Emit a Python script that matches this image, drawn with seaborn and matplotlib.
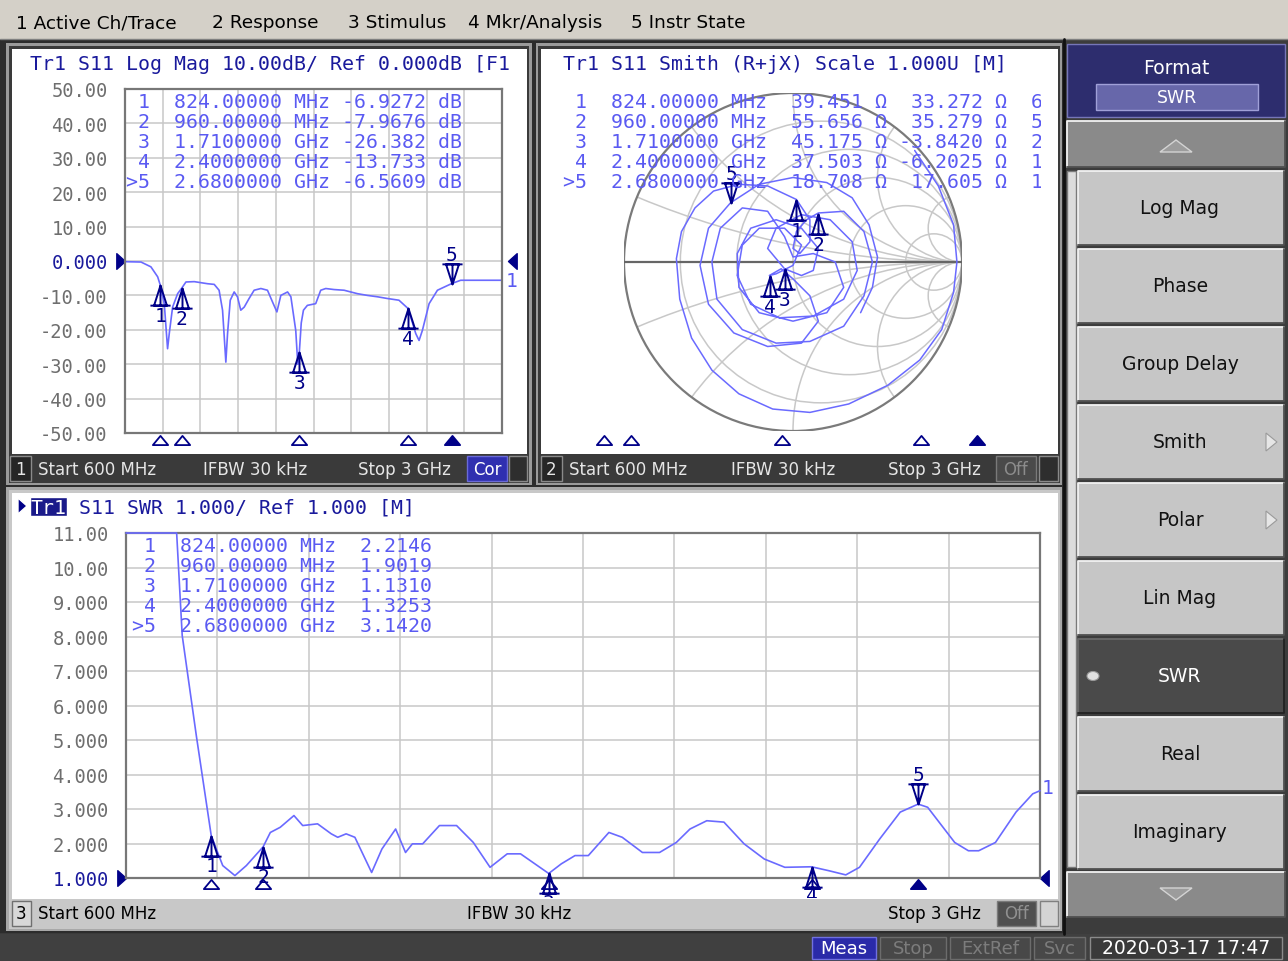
import numpy as np
import pandas as pd
import matplotlib
matplotlib.use("Agg")
import matplotlib.pyplot as plt
import seaborn as sns
from matplotlib.patches import Rectangle, Circle, Polygon, Ellipse
from matplotlib.path import Path
import matplotlib.transforms as mtransforms

# ---------------- data ----------------
marker_labels = [" 1", " 2", " 3", " 4", ">5"]
marker_numbers = ["1", "2", "3", "4", "5"]
marker_freq_ghz = [0.824, 0.960, 1.710, 2.400, 2.680]
marker_freq_text = ["824.00000 MHz", "960.00000 MHz", "1.7100000 GHz",
                    "2.4000000 GHz", "2.6800000 GHz"]
marker_logmag_db = [-6.9272, -7.9676, -26.382, -13.733, -6.5609]
marker_r_ohm = [39.451, 55.656, 45.175, 37.503, 18.708]
marker_x_ohm = [33.272, 35.279, -3.8420, -6.2025, 17.605]
marker_lc_text = ["6.4258 nH", "5.8488 nH", "24.226 pF", "10.692 pF", "1.0455 nH"]
marker_swr = [2.2146, 1.9019, 1.1310, 1.3253, 3.1420]

logmag_freq = [0.600, 0.702, 0.765, 0.808, 0.824, 0.850, 0.871, 0.882, 0.903, 0.935,
               0.960, 0.988, 1.041, 1.083, 1.125, 1.168, 1.199, 1.221, 1.242, 1.253,
               1.270, 1.295, 1.316, 1.337, 1.359, 1.390, 1.422, 1.465, 1.507, 1.539,
               1.567, 1.592, 1.635, 1.656, 1.687, 1.700, 1.710, 1.722, 1.736, 1.761,
               1.814, 1.846, 1.878, 1.931, 1.995, 2.037, 2.080, 2.143, 2.207, 2.270,
               2.344, 2.400, 2.419, 2.451, 2.472, 2.493, 2.536, 2.589, 2.631, 2.680,
               2.737, 3.000]
logmag_db = [-0.2, -0.3, -1.7, -4.6, -6.93, -12.4, -25.5, -21.0, -13.4, -9.5,
             -7.97, -6.1, -6.0, -6.3, -6.6, -6.8, -8.5, -14.3, -29.4, -21.0,
             -11.4, -9.0, -10.4, -14.3, -13.4, -10.9, -8.5, -8.0, -8.5, -11.9,
             -14.8, -10.0, -9.0, -10.4, -20.2, -30.0, -26.38, -18.0, -14.3, -12.9,
             -12.4, -8.5, -8.0, -8.3, -8.5, -9.0, -9.5, -10.0, -10.4, -10.9,
             -11.4, -13.73, -16.3, -21.1, -23.1, -20.2, -12.4, -8.5, -7.6, -6.56,
             -5.6, -5.6]

swr_freq = [0.600, 0.733, 0.7476, 0.785, 0.824, 0.854, 0.886, 0.916, 0.960, 0.979,
            1.005, 1.041, 1.064, 1.103, 1.139, 1.156, 1.178, 1.201, 1.245, 1.272,
            1.308, 1.334, 1.352, 1.379, 1.423, 1.468, 1.512, 1.556, 1.601, 1.636,
            1.710, 1.743, 1.779, 1.814, 1.868, 1.903, 1.956, 2.001, 2.045, 2.081,
            2.125, 2.170, 2.223, 2.276, 2.330, 2.400, 2.446, 2.490, 2.526, 2.579,
            2.633, 2.680, 2.705, 2.776, 2.812, 2.839, 2.883, 2.937, 2.981, 3.000]
swr_value = [11.0, 11.0, 8.03, 5.1, 2.2146, 1.36, 1.07, 1.36, 1.9019, 2.32,
             2.47, 2.81, 2.52, 2.57, 2.28, 2.18, 2.28, 2.18, 1.16, 1.84,
             2.42, 1.74, 1.99, 1.99, 2.52, 2.52, 2.03, 1.31, 1.70, 1.70,
             1.131, 1.41, 1.65, 1.65, 2.32, 2.18, 1.74, 1.74, 2.03, 2.42,
             2.66, 2.62, 1.99, 1.55, 1.31, 1.3253, 1.21, 1.09, 1.31, 2.13,
             2.91, 3.142, 3.05, 2.03, 1.79, 1.79, 2.03, 2.91, 3.44, 3.53]

smith_re = [0.72, 0.86, 0.95, 0.97, 0.95, 0.88, 0.75, 0.56, 0.33, 0.10, -0.12, -0.32,
            -0.48, -0.60, -0.67, -0.69, -0.66, -0.58, -0.47, -0.32, -0.15, 0.02,
            0.10, 0.10, 0.04, 0.00, 0.02, 0.08, 0.15,
            0.30, 0.42, 0.47, 0.42, 0.30, 0.10, -0.10, -0.30, -0.45, -0.48, -0.43,
            -0.30, -0.15, -0.05, 0.00,
            0.12, 0.25, 0.30, 0.20, 0.00, -0.20, -0.32, -0.33, -0.25, -0.10, 0.05,
            0.15, 0.12,
            0.05, -0.05,
            -0.15, -0.10, 0.05, 0.22, 0.35, 0.38, 0.30, 0.12, -0.08, -0.25, -0.33,
            -0.30, -0.20, -0.05, 0.05, 0.00, -0.10, -0.14,
            -0.07, 0.00, 0.10, 0.15, 0.05, -0.15, -0.35, -0.50, -0.55, -0.50, -0.37,
            -0.20, 0.00, 0.20, 0.35, 0.45, 0.50, 0.47, 0.40]
smith_im = [0.66, 0.45, 0.22, 0.00, -0.18, -0.40, -0.58, -0.73, -0.84, -0.89, -0.87, -0.78,
            -0.64, -0.45, -0.22, 0.02, 0.18, 0.32, 0.42, 0.46, 0.45, 0.37,
            0.25, 0.12, 0.05, 0.08, 0.18, 0.25, 0.29,
            0.30, 0.18, 0.00, -0.20, -0.38, -0.47, -0.48, -0.40, -0.22, 0.00, 0.20,
            0.32, 0.30, 0.15, 0.03,
            0.05, 0.00, -0.15, -0.30, -0.35, -0.30, -0.15, 0.05, 0.20, 0.25, 0.20,
            0.08, -0.05,
            -0.08, -0.04,
            0.08, 0.20, 0.28, 0.25, 0.12, -0.05, -0.22, -0.32, -0.33, -0.25, -0.08,
            0.10, 0.20, 0.20, 0.10, -0.02, -0.07, -0.08,
            -0.04, -0.10, -0.20, -0.35, -0.48, -0.50, -0.42, -0.25, -0.02, 0.20, 0.35,
            0.46, 0.50, 0.47, 0.38, 0.22, 0.03, -0.15, -0.30]

logmag_ticks = [50, 40, 30, 20, 10, 0, -10, -20, -30, -40, -50]
logmag_tick_text = ["50.00", "40.00", "30.00", "20.00", "10.00", "0.000",
                    "-10.00", "-20.00", "-30.00", "-40.00", "-50.00"]
swr_ticks = [11, 10, 9, 8, 7, 6, 5, 4, 3, 2, 1]
swr_tick_text = ["11.00", "10.00", "9.000", "8.000", "7.000", "6.000",
                 "5.000", "4.000", "3.000", "2.000", "1.000"]

smith_r_circles = [0.2, 0.5, 1.0, 2.0, 5.0]
smith_x_arcs = [0.2, 0.5, 1.0, 2.0, 5.0]

top_menu = ["1 Active Ch/Trace", "2 Response", "3 Stimulus", "4 Mkr/Analysis", "5 Instr State"]
top_menu_x = [16, 212, 348, 468, 631]
softkeys = ["Log Mag", "Phase", "Group Delay", "Smith", "Polar", "Lin Mag", "SWR", "Real", "Imaginary"]
status_items = ["Meas", "Stop", "ExtRef", "Svc"]
date_text = "2020-03-17 17:47"

assert len(logmag_freq) == len(logmag_db)
assert len(swr_freq) == len(swr_value)
assert len(smith_re) == len(smith_im)

# ---------------- style ----------------
sns.set_style("white")
MONO = ["DejaVu Sans Mono"]
SANS = ["DejaVu Sans"]
plt.rcParams["font.family"] = SANS

TRACE = "#6a6aff"
READ = "#5a5af2"
NAVY = "#1a1a9c"
MK = "#000088"
GRID = "#c8c8c8"
SPINE = "#777777"
TICK = "#6e6e6e"

W, H = 1288, 962
fig = plt.figure(figsize=(W / 100, H / 100), dpi=100)
fig.patch.set_facecolor("#3a3a3a")


def frac(x0, y0, x1, y1):
    return [x0 / W, 1 - y1 / H, (x1 - x0) / W, (y1 - y0) / H]


bg = fig.add_axes([0, 0, 1, 1], zorder=0)
bg.set_xlim(0, W); bg.set_ylim(H, 0); bg.axis("off")
top = fig.add_axes([0, 0, 1, 1], zorder=30)
top.set_xlim(0, W); top.set_ylim(H, 0); top.axis("off")


def px_bbox(x0, y0, x1, y1):
    return mtransforms.TransformedBbox(mtransforms.Bbox.from_extents(x0, y0, x1, y1), top.transData)


def box(x0, y0, x1, y1, fc, ec="none", lw=0, z=1):
    bg.add_patch(Rectangle((x0, y0), x1 - x0, y1 - y0, facecolor=fc,
                           edgecolor=ec, linewidth=lw, zorder=z))


def bevel(x0, y0, x1, y1, fc, light="#f2f2f2", dark="#505050", z=2):
    box(x0, y0, x1, y1, fc, z=z)
    bg.plot([x0, x0, x1], [y1, y0, y0], color=light, lw=1.3, zorder=z + 0.1)
    bg.plot([x0, x1, x1], [y1, y1, y0], color=dark, lw=1.3, zorder=z + 0.1)


def btext(x, y, s, color="black", size=12, ha="left", fam=SANS, ax=None, **kw):
    return (ax or bg).text(x, y, s, color=color, fontsize=size, ha=ha, va="center",
                           fontfamily=fam, zorder=5, **kw)


# ---- top menu bar ----
box(0, 0, W, 40, "#d4d0c8")
bg.plot([0, W], [40, 40], color="#808080", lw=1, zorder=2)
for s, x in zip(top_menu, top_menu_x):
    btext(x, 23, s, size=13.3)

# ---- main window ----
box(0, 41, 1064, 934, "#2c2c2c")

# panel 1
box(6, 44, 532, 486, "#9a9a9a")
box(9, 47, 529, 484, "#3a3a3a")
box(12, 50, 527, 455, "white")
box(10, 457, 31, 482, "#262626", ec="#8a8a8a", lw=1, z=2)
btext(20.5, 470, "1", color="#e6e6e6", ha="center", size=12)
btext(38, 470, "Start 600 MHz", color="#e6e6e6", size=12)
btext(203, 470, "IFBW 30 kHz", color="#e6e6e6", size=12)
btext(358, 470, "Stop 3 GHz", color="#e6e6e6", size=12)
box(467, 457, 507, 482, "#2f2fb0", ec="#6a6ad8", lw=1, z=2)
btext(487, 470, "Cor", color="white", ha="center", size=12)
box(509, 457, 527, 482, "#2e2e2e", ec="#8a8a8a", lw=1, z=2)

# panel 2
box(536, 44, 1062, 486, "#9a9a9a")
box(538, 47, 1060, 484, "#3a3a3a")
box(541, 50, 1058, 455, "white")
box(541, 457, 562, 482, "#262626", ec="#8a8a8a", lw=1, z=2)
btext(551.5, 470, "2", color="#e6e6e6", ha="center", size=12)
btext(569, 470, "Start 600 MHz", color="#e6e6e6", size=12)
btext(731, 470, "IFBW 30 kHz", color="#e6e6e6", size=12)
btext(888, 470, "Stop 3 GHz", color="#e6e6e6", size=12)
box(996, 457, 1036, 482, "#4a4a4a", ec="#7a7a7a", lw=1, z=2)
btext(1016, 470, "Off", color="#8c8c8c", ha="center", size=12)
box(1039, 457, 1058, 482, "#2e2e2e", ec="#8a8a8a", lw=1, z=2)

# panel 3
box(6, 488, 1062, 932, "#a8a8a8")
box(9, 491, 1060, 930, "#c8c8c8")
box(12, 494, 1058, 900, "white")
box(12, 902, 31, 927, "#d8d8d8", ec="#707070", lw=1, z=2)
btext(21.5, 914, "3", color="black", ha="center", size=12)
btext(38, 914, "Start 600 MHz", color="black", size=12)
btext(467, 914, "IFBW 30 kHz", color="black", size=12)
btext(888, 914, "Stop 3 GHz", color="black", size=12)
box(997, 902, 1036, 927, "#505050", ec="#7a7a7a", lw=1, z=2)
btext(1016.5, 914, "Off", color="#909090", ha="center", size=12)
box(1040, 902, 1058, 927, "#d4d4d4", ec="#808080", lw=1, z=2)

# ---- right soft-key menu ----
box(1064, 40, W, 935, "#3c3c3c")
bg.plot([1064, 1064], [40, 935], color="#111111", lw=2, zorder=2)
box(1067, 45, 1285, 118, "#2d2d6e", ec="#7676b8", lw=1, z=2)
btext(1176, 68, "Format", color="white", ha="center", size=13.5)
box(1096, 85, 1258, 111, "#6767aa", ec="#a0a0d8", lw=1, z=3)
btext(1177, 98, "SWR", color="white", ha="center", size=12.5)
bevel(1067, 122, 1285, 168, "#8a8a8a")
bg.add_patch(Polygon([(1160, 153), (1192, 153), (1176, 141)], closed=True,
                     facecolor="#9c9c9c", edgecolor="#d4d4d4", lw=1, zorder=4))
box(1067, 172, 1076, 868, "#dcdcdc", ec="#7a7a7a", lw=1, z=2)
for i, name in enumerate(softkeys):
    y0 = 172 + 78 * i
    y1 = y0 + 74
    if name == "SWR":
        bevel(1078, y0, 1284, y1, "#4a4a4a", light="#6a6a6a", dark="#222222")
        btext(1180, (y0 + y1) / 2, name, color="white", ha="center", size=13.5)
        bg.add_patch(Ellipse((1093, (y0 + y1) / 2), 12, 9, facecolor="#e0e0e0",
                             edgecolor="#999999", lw=0.8, zorder=4))
    else:
        bevel(1078, y0, 1284, y1, "#c6c6c6")
        btext(1180, (y0 + y1) / 2, name, color="#111111", ha="center", size=13.5)
    if name in ("Smith", "Polar"):
        yc = (y0 + y1) / 2
        bg.add_patch(Polygon([(1266, yc - 9), (1266, yc + 9), (1277, yc)], closed=True,
                             facecolor="#e6e6e6", edgecolor="#9a9a9a", lw=0.8, zorder=4))
bevel(1067, 873, 1285, 918, "#8a8a8a")
bg.add_patch(Polygon([(1160, 889), (1192, 889), (1176, 901)], closed=True,
                     facecolor="#9c9c9c", edgecolor="#d4d4d4", lw=1, zorder=4))

# ---- bottom status bar ----
box(0, 935, W, H, "#404040")
status_boxes = [(812, 876), (880, 946), (950, 1030), (1034, 1085)]
for s, (x0, x1) in zip(status_items, status_boxes):
    if s == "Meas":
        box(x0, 938, x1, 960, "#2a2aa8", ec="#7070e0", lw=1, z=2)
        btext((x0 + x1) / 2, 949, s, color="white", ha="center", size=13)
    else:
        box(x0, 938, x1, 960, "#484848", ec="#6c6c6c", lw=1, z=2)
        btext((x0 + x1) / 2, 949, s, color="#7c7c7c", ha="center", size=13)
box(1090, 938, 1282, 960, "#3a3a3a", ec="#8a8a8a", lw=1, z=2)
btext(1186, 949, date_text, color="white", ha="center", size=13.5)

# ---------------- marker shapes ----------------
MV, LT, CL = Path.MOVETO, Path.LINETO, Path.CLOSEPOLY
UP = Path([(0, 0), (-0.32, -1), (0.32, -1), (0, 0), (0, 0), (0, -1), (-0.5, -1), (0.5, -1)],
          [MV, LT, LT, CL, MV, LT, MV, LT])
DOWN = Path([(0, 0), (-0.32, 1), (0.32, 1), (0, 0), (0, 0), (0, 1), (-0.5, 1), (0.5, 1)],
            [MV, LT, LT, CL, MV, LT, MV, LT])
TRI = Path([(-1, -0.6), (1, -0.6), (0, 0.6), (-1, -0.6)], [MV, LT, LT, CL])
RARR = Path([(0, 0), (-1, 0.9), (-1, -0.9), (0, 0)], [MV, LT, LT, CL])
LARR = Path([(0, 0), (1, 0.9), (1, -0.9), (0, 0)], [MV, LT, LT, CL])


def trace_markers(ax, xs, ys, clip, off_up=-22, off_dn=21):
    for i, (x, y) in enumerate(zip(xs, ys)):
        active = (i == len(xs) - 1)
        ax.plot([x], [y], marker=DOWN if active else UP, ms=29, mfc="none", mec=MK,
                mew=1.4, ls="none", clip_on=False, zorder=6)
        a = ax.annotate(marker_numbers[i], (x, y), xytext=(0, off_dn if active else off_up),
                        textcoords="offset points", ha="center", va="center",
                        fontfamily=MONO, fontsize=14, color=MK, annotation_clip=False, zorder=6)
        a.set_clip_box(px_bbox(*clip))
        a.set_clip_on(True)


def bottom_indicators(ax, ypos, trans):
    for i, f in enumerate(marker_freq_ghz):
        active = (i == len(marker_freq_ghz) - 1)
        ax.plot([f], [ypos], marker=TRI, ms=11, mfc=MK if active else "none", mec=MK,
                mew=1.3, ls="none", clip_on=False, transform=trans, zorder=6)


def style_rect_axes(ax, ticks, ticktext, ref_index, xlim, ylim):
    ax.set_xlim(*xlim)
    ax.set_ylim(*ylim)
    ax.set_xticks(np.linspace(xlim[0], xlim[1], 11))
    ax.set_xticklabels([])
    ax.set_yticks(ticks)
    ax.set_yticklabels(ticktext, fontfamily=MONO, fontsize=13.5, color=TICK)
    ax.get_yticklabels()[ref_index].set_color(NAVY)
    ax.tick_params(length=0, pad=12.5)
    ax.grid(True, color=GRID, lw=1.1)
    ax.set_axisbelow(True)
    ax.patch.set_alpha(0)
    for sp in ax.spines.values():
        sp.set_color(SPINE)
        sp.set_linewidth(1.6)
    ax.set_xlabel("")
    ax.set_ylabel("")


# ---------------- panel 1 : Log Mag ----------------
ax1 = fig.add_axes(frac(125, 90, 502, 434), zorder=10)
df_lm = pd.DataFrame({"f": logmag_freq, "db": logmag_db})
sns.lineplot(data=df_lm, x="f", y="db", ax=ax1, color=TRACE, lw=1.2, sort=False,
             estimator=None)
style_rect_axes(ax1, logmag_ticks, logmag_tick_text, 5, (0.6, 3.0), (-50, 50))
trace_markers(ax1, marker_freq_ghz, marker_logmag_db, clip=(12, 50, 527, 455))
bottom_indicators(ax1, -0.02, mtransforms.blended_transform_factory(ax1.transData, ax1.transAxes))
bl1 = mtransforms.blended_transform_factory(ax1.transAxes, ax1.transData)
ax1.plot([0], [0], marker=RARR, ms=12.5, color=MK, ls="none", transform=bl1, clip_on=False)
ax1.plot([1.015], [0], marker=LARR, ms=12.5, color=MK, ls="none", transform=bl1, clip_on=False)
ax1.text(1.01, logmag_db[-1], "1", transform=bl1, color=READ, fontfamily=MONO,
         fontsize=14, va="center", ha="left")

# ---------------- panel 3 : SWR ----------------
ax3 = fig.add_axes(frac(126, 534, 1040, 879), zorder=10)
df_swr = pd.DataFrame({"f": swr_freq, "swr": swr_value})
sns.lineplot(data=df_swr, x="f", y="swr", ax=ax3, color=TRACE, lw=1.2, sort=False,
             estimator=None)
style_rect_axes(ax3, swr_ticks, swr_tick_text, 10, (0.6, 3.0), (1, 11))
ax3.get_lines()[0].set_clip_on(False)
ax3.get_lines()[0].set_zorder(3)
trace_markers(ax3, marker_freq_ghz, marker_swr, clip=(12, 494, 1058, 899), off_up=-21, off_dn=21)
bottom_indicators(ax3, -0.017, mtransforms.blended_transform_factory(ax3.transData, ax3.transAxes))
bl3 = mtransforms.blended_transform_factory(ax3.transAxes, ax3.transData)
ax3.plot([0], [1], marker=RARR, ms=12.5, color=MK, ls="none", transform=bl3, clip_on=False)
ax3.plot([1.0], [1], marker=LARR, ms=12.5, color=MK, ls="none", transform=bl3, clip_on=False)
ax3.text(1.002, swr_value[-1] + 0.1, "1", transform=bl3, color=READ, fontfamily=MONO,
         fontsize=14, va="center", ha="left")

# ---------------- panel 2 : Smith chart ----------------
ax2 = fig.add_axes(frac(624, 94, 962, 432), zorder=10)
ax2.set_xlim(-1, 1); ax2.set_ylim(-1, 1)
ax2.axis("off")
unit_clip = Circle((0, 0), 1.0, transform=ax2.transData)
for r in smith_r_circles:
    ax2.add_patch(Circle((r / (1 + r), 0), 1 / (1 + r), fill=False, edgecolor=GRID, lw=1.1, zorder=1))
for xv in smith_x_arcs:
    for sgn in (1, -1):
        arc = Circle((1, sgn / xv), 1 / xv, fill=False, edgecolor=GRID, lw=1.1, zorder=1)
        ax2.add_patch(arc)
        arc.set_clip_path(unit_clip)
ax2.add_patch(Circle((0, 0), 1.0, fill=False, edgecolor="#7a7a7a", lw=1.6, zorder=2))
ax2.plot([-1, 1], [0, 0], color="#666666", lw=1.6, zorder=2)
df_sm = pd.DataFrame({"re": smith_re, "im": smith_im})
sns.lineplot(data=df_sm, x="re", y="im", ax=ax2, color=TRACE, lw=1.1, sort=False,
             estimator=None, zorder=3)
ax2.set_xlabel(""); ax2.set_ylabel("")
z_mk = (np.array(marker_r_ohm) + 1j * np.array(marker_x_ohm)) / 50.0
g_mk = (z_mk - 1) / (z_mk + 1)
trace_markers(ax2, g_mk.real, g_mk.imag, clip=(541, 50, 1058, 455), off_up=-22, off_dn=21)

ax2f = fig.add_axes(frac(559, 435, 1041, 446), zorder=10)
ax2f.set_xlim(0.6, 3.0); ax2f.set_ylim(0, 1); ax2f.axis("off")
bottom_indicators(ax2f, 0.5, ax2f.transData)

# ---------------- titles and readouts ----------------
def ttext(x, y, s, color, clip=None, size=14.3):
    t = top.text(x, y, s, color=color, fontsize=size, fontfamily=MONO, ha="left",
                 va="baseline", zorder=5)
    if clip is not None:
        t.set_clip_box(px_bbox(*clip))
        t.set_clip_on(True)
    return t


ttext(30, 70, "Tr1 S11 Log Mag 10.00dB/ Ref 0.000dB [F1 M]", NAVY, clip=(12, 40, 513, 90))
ttext(563, 70, "Tr1 S11 Smith (R+jX) Scale 1.000U [M]", NAVY)

for i in range(5):
    yb = 108.5 + 20 * i
    ttext(126, yb, f"{marker_labels[i]}  {marker_freq_text[i]} {marker_logmag_db[i]:#.5g} dB", READ)
    ttext(563, yb, f"{marker_labels[i]}  {marker_freq_text[i]} {marker_r_ohm[i]:>#7.5g} \u03a9 "
                   f"{marker_x_ohm[i]:>#7.5g} \u03a9  {marker_lc_text[i]}", READ,
          clip=(541, 40, 1041, 455))
    ttext(132, 552 + 20 * i, f"{marker_labels[i]}  {marker_freq_text[i]}  {marker_swr[i]:#.5g}", READ)

# panel 3 title with highlighted Tr1
top.add_patch(Polygon([(18, 499), (18, 515), (27, 507)], closed=True, facecolor=MK, zorder=4))
top.add_patch(Rectangle((30, 498), 37, 19, facecolor="#1a1a8a", zorder=4))
ttext(31, 514, "Tr1", "white")
ttext(79, 514, "S11 SWR 1.000/ Ref 1.000 [M]", NAVY)

fig.savefig("out.png", dpi=100, facecolor=fig.get_facecolor())
